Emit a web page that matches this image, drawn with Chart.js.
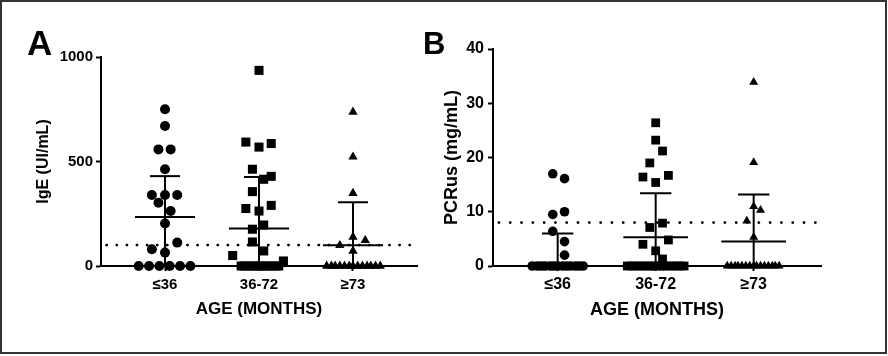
<!DOCTYPE html>
<html><head><meta charset="utf-8">
<script src="https://cdn.jsdelivr.net/npm/chart.js@4.4.1/dist/chart.umd.min.js"></script>
<style>
html,body{margin:0;padding:0;background:#fff;}
#wrap{position:relative;width:888px;height:356px;overflow:hidden;background:#fff;}
#frame{position:absolute;left:0;top:0;width:887px;height:354px;box-sizing:border-box;border:2px solid #333;pointer-events:none;}
#cA{position:absolute;left:0;top:0;}
#cB{position:absolute;left:410px;top:0;}
</style></head><body>
<div id="wrap">
<canvas id="cA" width="430" height="356"></canvas>
<canvas id="cB" width="478" height="356"></canvas>
<div id="frame"></div>
</div>
<script>
// ---------- DATA ----------
const ageCategories = ['≤36', '36-72', '≥73'];

// Panel A: IgE (UI/mL)
const igeLe36  = [750, 670, 558, 558, 463, 340, 340, 340, 303, 263, 203, 112, 80, 64, 0, 0, 0, 0, 0, 0];
const ige36to72 = [936, 593, 569, 586, 463, 415, 429, 356, 275, 263, 290, 176, 196, 115, 72, 50, 24, 0, 0, 0, 0, 0, 0, 0, 0, 0, 0];
const igeGe73  = [737, 522, 348, 139, 99, 123, 72, 0, 0, 0, 0, 0, 0, 0, 0, 0, 0, 0, 0, 0];
const igeMedian = [234, 180, 99];
const igeQ3     = [430, 426, 305];
const igeQ1     = [0, 0, 0];
const igeCutoff = 100;
const igeTicks  = [0, 500, 1000];

// Panel B: PCRus (mg/mL)
const pcrLe36  = [17.0, 16.1, 9.5, 10.0, 6.4, 4.5, 2.0, 0, 0, 0, 0, 0, 0, 0, 0, 0, 0, 0, 0, 0];
const pcr36to72 = [26.4, 23.2, 21.2, 19.0, 16.4, 16.7, 15.4, 7.1, 7.9, 4.0, 4.8, 2.8, 1.3, 0, 0, 0, 0, 0, 0, 0, 0, 0, 0, 0, 0, 0, 0, 0];
const pcrGe73  = [33.9, 19.1, 11.0, 10.3, 8.3, 5.3, 0, 0, 0, 0, 0, 0, 0, 0, 0, 0, 0, 0, 0, 0, 0];
const pcrMedian = [0, 5.3, 4.5];
const pcrQ3     = [6.0, 13.4, 13.2];
const pcrQ1     = [0, 0, 0];
const pcrCutoff = 8;
const pcrTicks  = [0, 10, 20, 30, 40];

// horizontal scatter (jitter) of each dot, in category units
const igeLe36Jit  = [0, 0, -0.07, 0.06, 0, -0.14, 0, 0.13, -0.07, 0.06, 0, 0.13, -0.14, 0, -0.28, -0.17, -0.06, 0.05, 0.16, 0.27];
const ige36to72Jit = [0, -0.14, 0, 0.13, -0.07, 0.05, 0.13, -0.07, -0.14, 0, 0.13, -0.07, 0.05, -0.07, 0.05, -0.28, 0.26, -0.19, -0.15, -0.10, -0.06, -0.01, 0.03, 0.08, 0.12, 0.17, 0.21];
const igeGe73Jit  = [0, 0, 0, 0, -0.14, 0.13, 0, -0.28, -0.23, -0.19, -0.14, -0.09, -0.04, 0, 0.05, 0.10, 0.15, 0.19, 0.24, 0.29];
const pcrLe36Jit  = [-0.05, 0.07, -0.05, 0.07, -0.05, 0.07, 0.07, -0.26, -0.21, -0.17, -0.13, -0.08, -0.04, 0, 0.05, 0.09, 0.13, 0.18, 0.22, 0.26];
const pcr36to72Jit = [0, 0, 0.07, -0.06, -0.13, 0.13, 0, -0.06, 0.07, -0.13, 0.13, 0, 0.07, -0.29, -0.25, -0.21, -0.17, -0.12, -0.08, -0.04, 0, 0.04, 0.08, 0.12, 0.17, 0.21, 0.25, 0.29];
const pcrGe73Jit  = [0, 0, 0, 0.07, -0.07, 0, -0.27, -0.23, -0.19, -0.16, -0.12, -0.08, -0.04, 0, 0.03, 0.07, 0.11, 0.15, 0.19, 0.22, 0.26];

// ---------- CHART ----------
const FONT = "'Liberation Sans', Arial, Helvetica, sans-serif";
Chart.defaults.font.family = FONT;
Chart.defaults.font.weight = 'bold';
Chart.defaults.color = '#000';

const letterPlugin = {
  id: 'panelLetter',
  afterDraw(chart, args, opts) {
    const ctx = chart.ctx;
    ctx.save();
    ctx.font = 'bold ' + opts.size + 'px ' + FONT;
    ctx.fillStyle = '#000';
    ctx.textBaseline = 'alphabetic';
    ctx.textAlign = 'left';
    ctx.fillText(opts.text, opts.x, opts.y);
    ctx.restore();
  }
};

function buildPanel(canvasId, p) {
  const ds = [];
  const styles = ['circle', 'rect', 'triangle'];
  p.groups.forEach((vals, g) => {
    ds.push({
      type: 'scatter',
      data: vals.map((v, i) => ({x: g + 1 + p.jitter[g][i], y: v})),
      pointStyle: styles[g],
      pointRadius: p.radius[g],
      pointBackgroundColor: '#000',
      pointBorderColor: '#000',
      pointBorderWidth: 0,
      clip: false,
      order: 2
    });
  });
  const seg = (pts) => ({
    type: 'line', data: pts, borderColor: '#000', borderWidth: 2,
    pointRadius: 0, fill: false, clip: false, order: 1, tension: 0
  });
  for (let g = 0; g < 3; g++) {
    const c = g + 1;
    ds.push(seg([{x: c - p.medHalf, y: p.median[g]}, {x: c + p.medHalf, y: p.median[g]}]));
    ds.push(seg([{x: c - p.capHalf, y: p.q3[g]}, {x: c + p.capHalf, y: p.q3[g]}]));
    ds.push(seg([{x: c, y: p.q1[g]}, {x: c, y: p.q3[g]}]));
  }
  ds.push({
    type: 'line', data: [{x: p.xmin + 0.06, y: p.cutoff}, {x: p.xmax, y: p.cutoff}],
    borderColor: '#000', borderWidth: 2.8, borderDash: [0.1, p.dotGap],
    borderCapStyle: 'round', pointRadius: 0, fill: false, clip: false, order: 0
  });

  return new Chart(document.getElementById(canvasId), {
    type: 'scatter',
    data: {datasets: ds},
    options: {
      responsive: false, animation: false, devicePixelRatio: 1,
      layout: {padding: {left: 0, right: p.padRight, top: p.padTop, bottom: 0}},
      plugins: {
        legend: {display: false}, tooltip: {enabled: false},
        panelLetter: p.letter
      },
      scales: {
        x: {
          type: 'linear', min: p.xmin, max: p.xmax,
          afterBuildTicks: (s) => { s.ticks = [{value: 1}, {value: 2}, {value: 3}]; },
          afterFit: (s) => { s.height = p.xHeight; },
          ticks: {
            callback: (v) => ageCategories[Math.round(v) - 1],
            font: {size: p.xTickSize, weight: 'bold'}, color: '#000', padding: p.xTickPad,
            maxRotation: 0, autoSkip: false
          },
          grid: {drawOnChartArea: false, drawTicks: true, tickLength: 5, tickWidth: 2, tickColor: '#000'},
          border: {display: true, color: '#000', width: 2},
          title: {display: true, text: 'AGE (MONTHS)', font: {size: p.xTitleSize, weight: 'bold'}, color: '#000',
                  padding: {top: 0, bottom: p.xTitlePadBottom}}
        },
        y: {
          type: 'linear', min: p.yTicks[0], max: p.yTicks[p.yTicks.length - 1],
          afterBuildTicks: (s) => { s.ticks = p.yTicks.map(v => ({value: v})); },
          afterFit: (s) => { s.width = p.yWidth; },
          ticks: {font: {size: p.yTickSize, weight: 'bold'}, color: '#000', padding: p.yTickPad,
                  callback: (v) => String(v)},
          grid: {drawOnChartArea: false, drawTicks: true, tickLength: 5, tickWidth: 2, tickColor: '#000'},
          border: {display: true, color: '#000', width: 2},
          title: {display: true, text: p.yTitle, font: {size: p.yTitleSize, weight: 'bold'}, color: '#000',
                  padding: {top: p.yTitlePadTop, bottom: 0}}
        }
      }
    },
    plugins: [letterPlugin]
  });
}

buildPanel('cA', {
  groups: [igeLe36, ige36to72, igeGe73],
  jitter: [igeLe36Jit, ige36to72Jit, igeGe73Jit],
  median: igeMedian, q3: igeQ3, q1: igeQ1, cutoff: igeCutoff, yTicks: igeTicks,
  radius: [5, 6.4, 5.4],
  medHalf: 0.32, capHalf: 0.16, dotGap: 10,
  xmin: 0.319, xmax: 3.681,
  padRight: 13, padTop: 57, xHeight: 90, yWidth: 101,
  xTickSize: 15, xTickPad: 5, xTitleSize: 17, xTitlePadBottom: 36,
  yTickSize: 15, yTickPad: 3, yTitle: 'IgE (UI/mL)', yTitleSize: 16, yTitlePadTop: 34,
  letter: {text: 'A', x: 27, y: 55, size: 35}
});

buildPanel('cB', {
  groups: [pcrLe36, pcr36to72, pcrGe73],
  jitter: [pcrLe36Jit, pcr36to72Jit, pcrGe73Jit],
  median: pcrMedian, q3: pcrQ3, q1: pcrQ1, cutoff: pcrCutoff, yTicks: pcrTicks,
  radius: [4.8, 6.2, 5.2],
  medHalf: 0.33, capHalf: 0.16, dotGap: 11.2,
  xmin: 0.34, xmax: 3.687,
  padRight: 67, padTop: 49, xHeight: 90, yWidth: 83,
  xTickSize: 16, xTickPad: 4, xTitleSize: 18, xTitlePadBottom: 35,
  yTickSize: 16, yTickPad: 4, yTitle: 'PCRus (mg/mL)', yTitleSize: 18, yTitlePadTop: 31,
  letter: {text: 'B', x: 13, y: 54, size: 31}
});
</script>
</body></html>
